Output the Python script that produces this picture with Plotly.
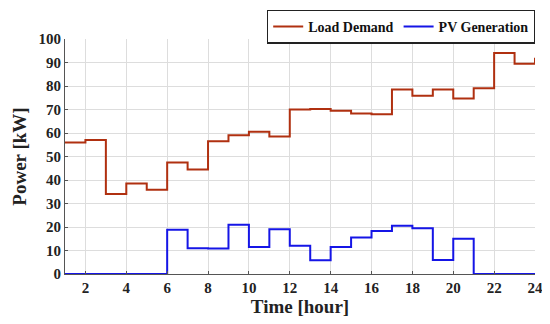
import plotly.graph_objects as go

hours = list(range(1, 25))
load_demand = [56, 57, 34, 38.5, 35.8, 47.5, 44.5, 56.5, 59, 60.5, 58.5, 70,
               70.2, 69.5, 68.3, 68, 78.5, 75.8, 78.5, 74.7, 79, 94, 89.5, 92]
pv_generation = [0, 0, 0, 0, 0, 18.8, 11, 10.8, 21, 11.5, 19, 12,
                 5.8, 11.5, 15.5, 18.3, 20.5, 19.5, 6, 15, 0, 0, 0, 0]
x_ticks = list(range(2, 25, 2))
y_ticks = list(range(0, 101, 10))

FF = "Liberation Serif, Times New Roman, serif"

fig = go.Figure()
fig.add_trace(go.Scatter(x=hours, y=load_demand, mode="lines", line_shape="hv",
                         name="Load Demand", line=dict(color="#B03010", width=2)))
fig.add_trace(go.Scatter(x=hours, y=pv_generation, mode="lines", line_shape="hv",
                         name="PV Generation", line=dict(color="#1515E6", width=2)))

fig.update_layout(
    width=542, height=316,
    margin=dict(l=57, r=15, t=31, b=50, autoexpand=False),
    plot_bgcolor="white", paper_bgcolor="white",
    font=dict(family=FF, color="#222222"),
    showlegend=True,
    legend=dict(orientation="h", x=1, xanchor="right", y=1.125, yanchor="top",
                bordercolor="#222222", borderwidth=1.2,
                font=dict(family=FF, size=14, color="#111111", weight="bold"),
                itemwidth=30, tracegroupgap=0),
    xaxis=dict(range=[1, 24], tickvals=x_ticks, showgrid=True, gridcolor="#DDDDDD",
               showline=True, linecolor="#555555", linewidth=1, zeroline=False,
               ticks="inside", ticklen=3, tickcolor="#555555",
               tickfont=dict(family=FF, size=15, weight="bold", color="#222222"),
               title=dict(text="Time [hour]", font=dict(family=FF, size=19, weight="bold", color="#222222"),
                          standoff=2)),
    yaxis=dict(range=[0, 100], tickvals=y_ticks, showgrid=True, gridcolor="#DDDDDD",
               showline=True, linecolor="#555555", linewidth=1, zeroline=False,
               ticks="inside", ticklen=3, tickcolor="#555555",
               tickfont=dict(family=FF, size=15, weight="bold", color="#222222"),
               title=dict(text="Power [kW]", font=dict(family=FF, size=19, weight="bold", color="#222222"),
                          standoff=6)),
)

fig.write_html("out.html")
